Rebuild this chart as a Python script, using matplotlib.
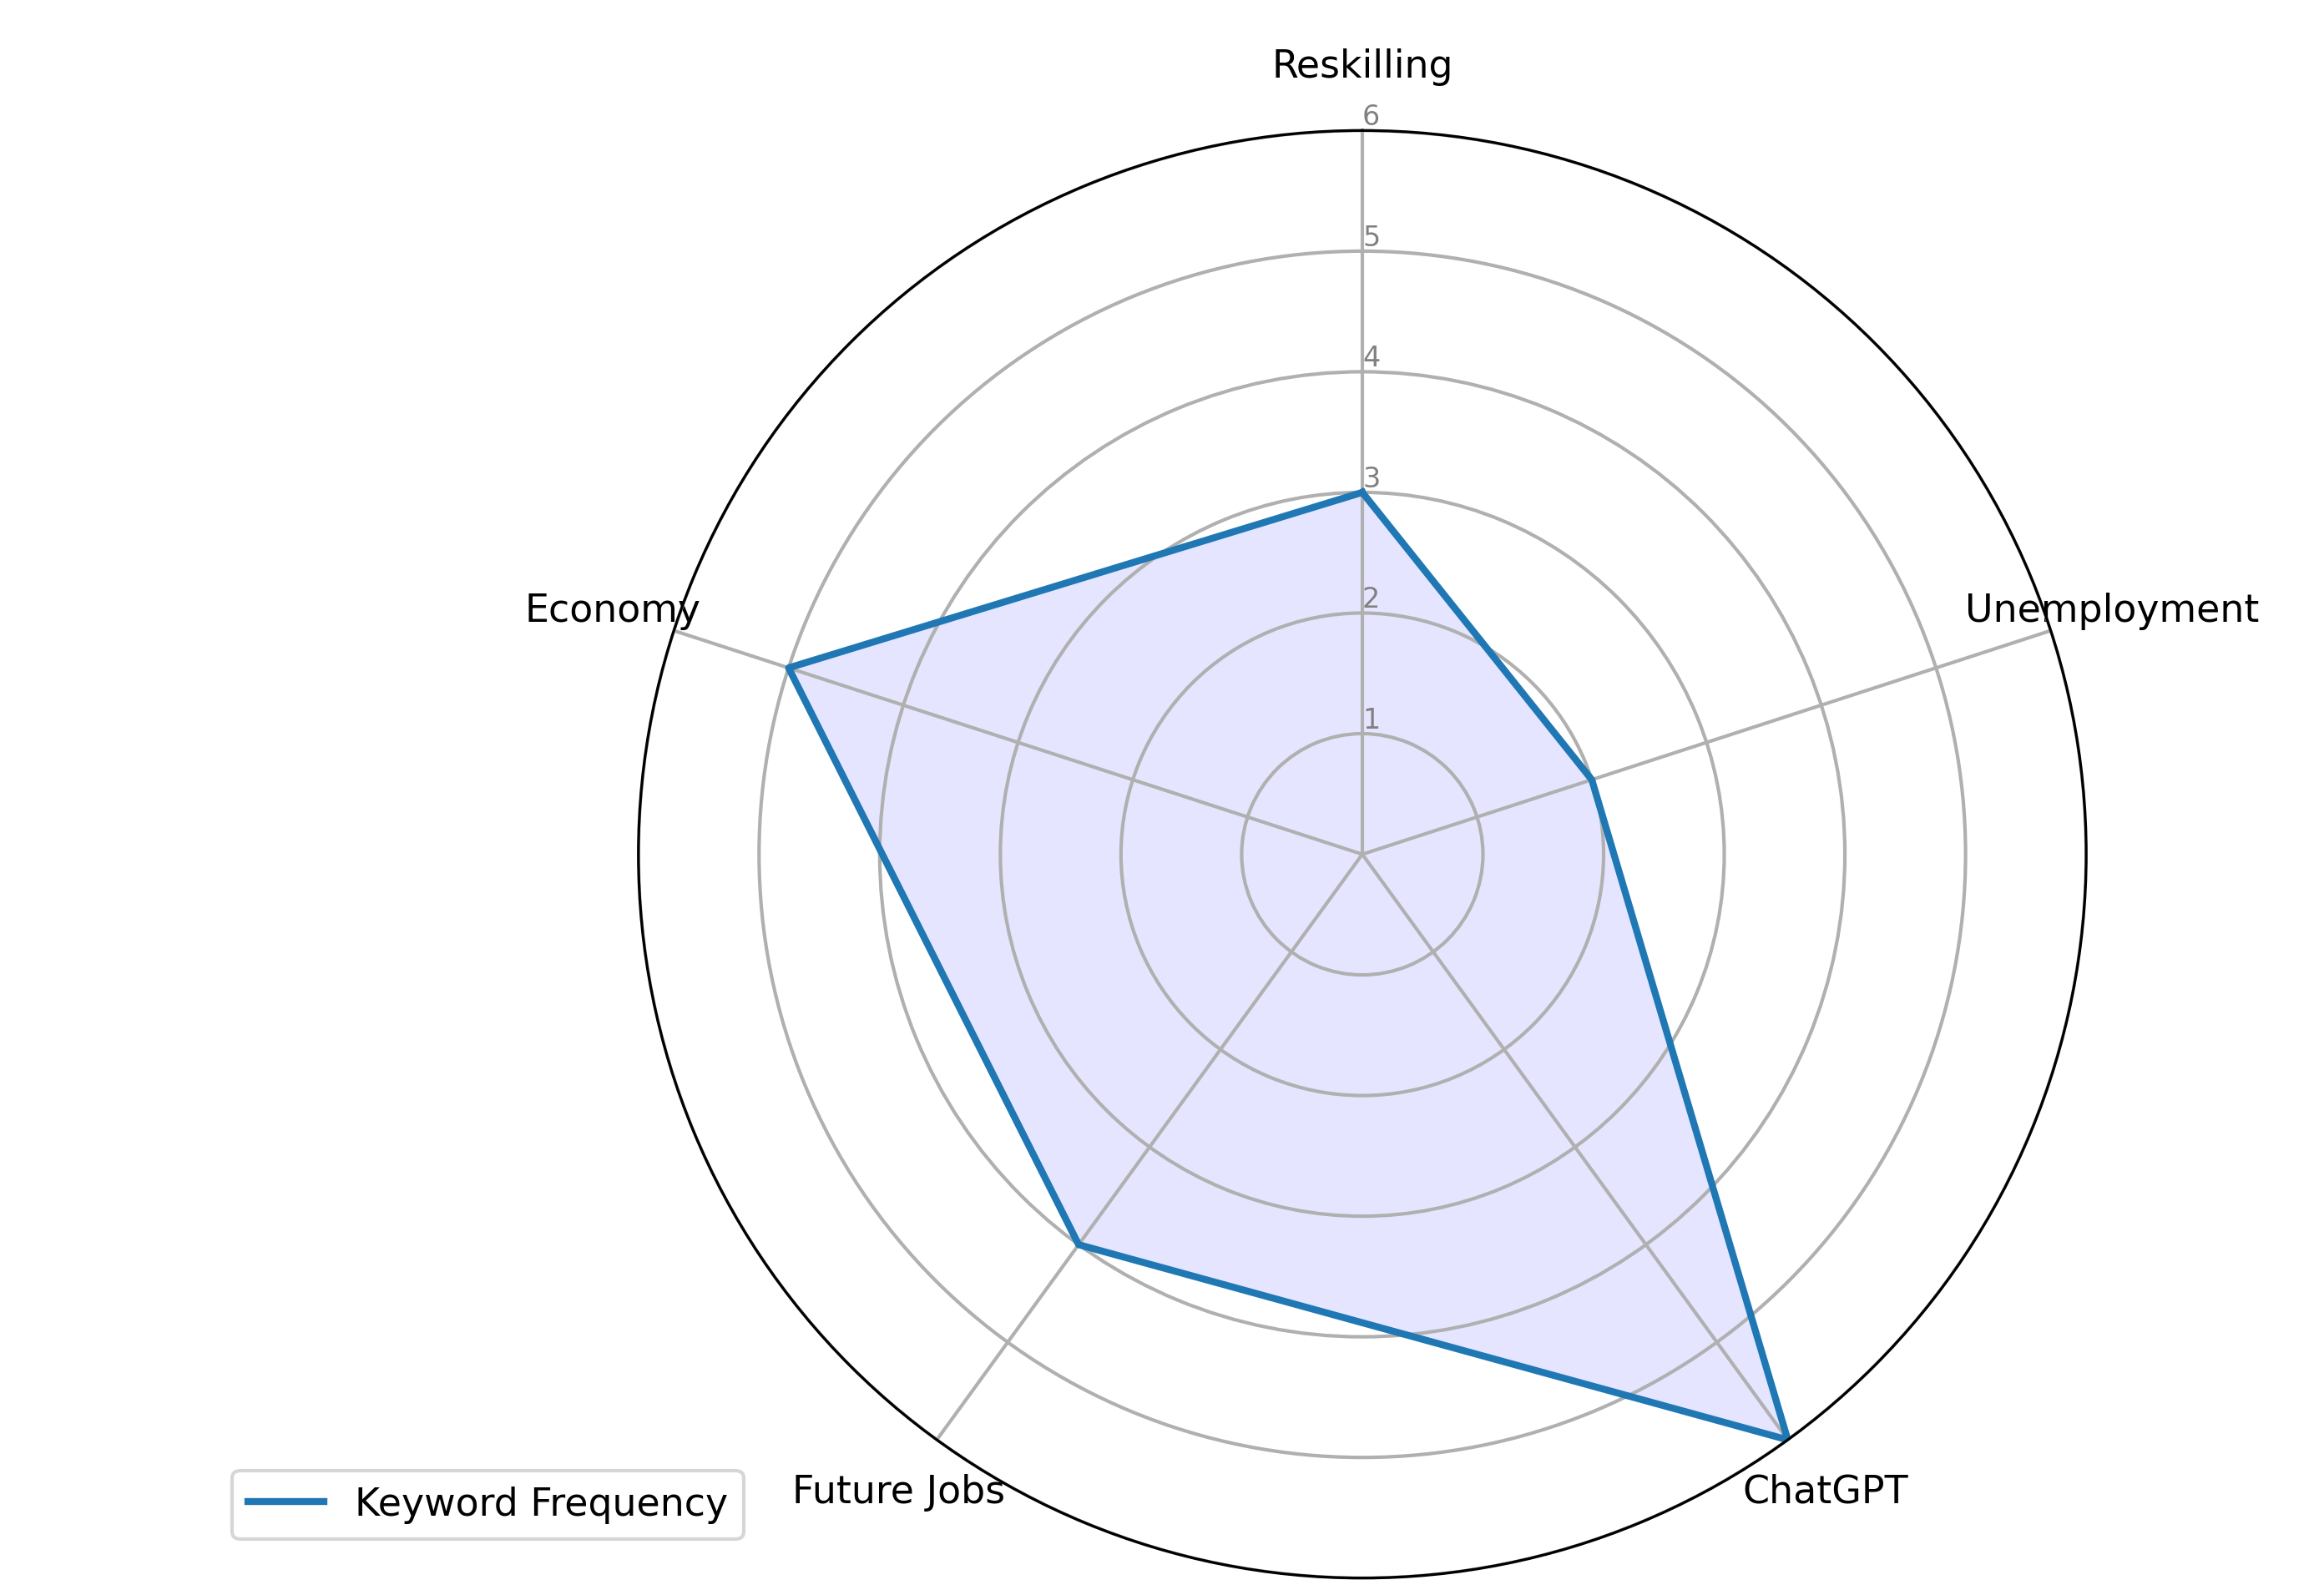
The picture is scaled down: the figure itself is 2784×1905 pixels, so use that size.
import numpy as np
import matplotlib.pyplot as plt

categories = ['Reskilling', 'Unemployment', 'ChatGPT', 'Future Jobs', 'Economy']
values = [3, 2, 6, 4, 5]
ticks = [1, 2, 3, 4, 5, 6]

angles = np.linspace(0, 2 * np.pi, len(categories), endpoint=False).tolist()
vals = values + values[:1]
angs = angles + angles[:1]

fig = plt.figure(figsize=(9.283, 6.353), dpi=300)
ax = fig.add_axes([0.274, 0.0075, 0.624, 0.91], polar=True)
ax.set_theta_offset(np.pi / 2)
ax.set_theta_direction(-1)

ax.plot(angs, vals, color='tab:blue', linewidth=2, label='Keyword Frequency')
ax.fill(angs, vals, color='blue', alpha=0.1)

ax.set_xticks(angles)
ax.set_xticklabels(categories, fontsize=11)
ax.set_ylim(0, 6)
ax.set_yticks(ticks)
ax.set_yticklabels([str(t) for t in ticks], color='grey', fontsize=8)
ax.set_rlabel_position(0)
ax.grid(color='#b0b0b0', linewidth=1)
ax.tick_params(axis='x', pad=8)

fig.legend(loc='upper right', bbox_to_anchor=(0.328, 0.087), fontsize=11)

plt.savefig('out.png', dpi=300)
